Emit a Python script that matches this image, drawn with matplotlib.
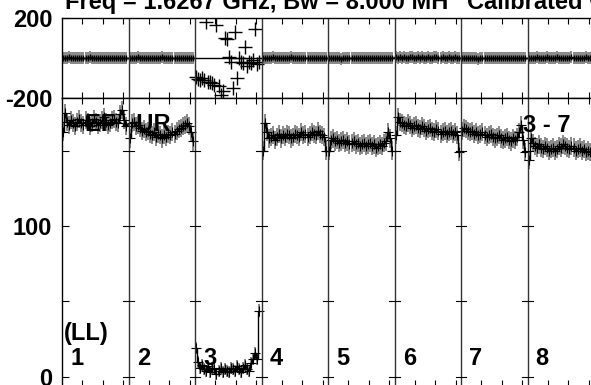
import matplotlib
matplotlib.use('Agg')
import matplotlib.pyplot as plt
import numpy as np

plt.rcParams['font.family'] = ['Liberation Sans', 'DejaVu Sans']
plt.rcParams['font.weight'] = 'bold'

# channels plotted in each baseline panel
chans = [1, 3, 5, 7, 9, 11, 13, 15, 17, 19, 21, 23, 25, 27, 29, 31,
         33, 35, 37, 39, 41, 43, 45, 47, 49, 51, 53, 55, 57, 59, 61, 63]
panel_names = ['1', '2', '3', '4', '5', '6', '7', '8']
nchan_panel = 65

amp1 = [162, 175, 169, 167, 170, 168, 166, 169, 171, 168, 167, 170, 169, 166, 168, 171,
        169, 167, 168, 170, 172, 169, 167, 168, 170, 171, 169, 168, 174, 177, 170, 166]
amp2 = [158, 168, 169, 166, 167, 165, 163, 164, 162, 163, 161, 160, 162, 159, 161, 160,
        158, 160, 159, 161, 160, 162, 161, 163, 164, 165, 166, 167, 168, 166, 162, 156]
amp3 = [19, 10, 6, 8, 5, 4, 7, 3, 6, 5, 2, 4, 6, 3, 5, 4,
        3, 6, 5, 4, 7, 5, 3, 6, 8, 5, 4, 9, 12, 16, 12, 44]
amp4 = [150, 168, 162, 158, 159, 160, 157, 159, 161, 158, 160, 159, 161, 160, 158, 159,
        161, 160, 159, 162, 160, 161, 159, 160, 162, 161, 160, 163, 161, 160, 159, 150]
amp5 = [150, 157, 158, 156, 157, 155, 156, 157, 155, 156, 154, 155, 156, 154, 155, 153,
        154, 155, 153, 154, 155, 153, 154, 152, 153, 154, 153, 155, 156, 162, 158, 150]
amp6 = [160, 172, 169, 168, 167, 166, 168, 167, 165, 166, 167, 165, 164, 166, 165, 163,
        164, 165, 163, 162, 164, 163, 161, 162, 163, 161, 162, 163, 161, 162, 160, 149]
amp7 = [163, 165, 164, 163, 162, 163, 161, 162, 160, 161, 162, 160, 159, 160, 161, 159,
        158, 159, 160, 158, 157, 158, 159, 157, 156, 158, 157, 159, 162, 167, 157, 149]
amp8 = [144, 158, 155, 153, 152, 154, 152, 151, 153, 152, 150, 151, 152, 150, 151, 153,
        152, 154, 153, 152, 151, 153, 152, 150, 151, 152, 150, 151, 149, 150, 149, 148]

ph1 = [2, -1, 0, 3, -2, 1, 0, -1, 2, 1, -2, 0, 1, 3, -1, 0,
       2, -1, 1, 0, -2, 1, 2, 0, -1, 1, 0, 2, -1, 0, 1, -2]
ph2 = [-1, 2, 1, 0, 3, -1, 0, 2, 1, -2, 0, 1, 2, -1, 0, 1,
       3, 0, -1, 2, 1, 0, -2, 1, 0, 2, 1, -1, 0, 2, -1, 1]
ph3 = [-95, -105, -110, -100, -112, 181, -118, -120, -127, -135, 165, -142, -183, -165, 99, 95,
       6, -18, -150, 130, -100, 0, -18, -27, 57, -42, -18, -25, -10, 143, -30, -20]
ph4 = [1, 0, 2, -1, 1, 3, 0, -2, 1, 0, 2, 1, -1, 0, 3, 1,
       0, -1, 2, 1, 0, -2, 1, 2, 0, 1, -1, 0, 2, 1, 0, -1]
ph5 = [0, -2, -1, 1, 0, -1, -3, 0, 1, -2, -1, 0, -2, 1, -1, 0,
       -2, -1, 0, 1, -1, -2, 0, -1, 1, 0, -2, -1, 0, -1, 1, 0]
ph6 = [3, 2, 4, 1, 3, 2, 0, 3, 4, 2, 1, 3, 2, 4, 1, 2,
       3, 1, 2, 4, 3, 1, 2, 3, 0, 2, 3, 1, 2, 3, 1, 2]
ph7 = [-1, 0, -2, -1, 1, -2, 0, -1, -3, 0, -1, -2, 0, 1, -1, -2,
       0, -1, -2, 1, 0, -1, -2, 0, -1, 1, -2, -1, 0, -2, -1, 0]
ph8 = [1, 2, 0, 1, 3, 2, 0, 1, 2, 3, 1, 0, 2, 1, 3, 2,
       1, 0, 2, 1, 2, 3, 1, 2, 0, 1, 2, 1, 3, 2, 1, 0]

amps = [amp1, amp2, amp3, amp4, amp5, amp6, amp7, amp8]
phases = [ph1, ph2, ph3, ph4, ph5, ph6, ph7, ph8]
amp_err = [6, 6, 4, 6, 6, 6, 6, 6]
ph_err = [30, 30, 0, 30, 30, 30, 30, 30]

W, H = 591, 385
fs = 17
fig = plt.figure(figsize=(W/100., H/100.), dpi=100)
ax_ph = fig.add_axes([62./W, 1-98./H, 532./W, 80./H])
ax_am = fig.add_axes([62./W, 1-386./H, 532./W, 288./H])

grey = '#808080'
xmax = nchan_panel*len(panel_names)
for i in range(len(panel_names)):
    x = [i*nchan_panel + c for c in chans]
    ax_ph.errorbar(x, phases[i], yerr=ph_err[i], fmt='none', ecolor=grey, elinewidth=1.3)
    ax_ph.plot(x, phases[i], '+', color='k', ms=10 if i == 2 else 4, mew=1.0)
    ax_am.errorbar(x, amps[i], yerr=amp_err[i], fmt='none', ecolor=grey, elinewidth=1.3)
    ax_am.plot(x, amps[i], color='k', lw=1.0, drawstyle='steps-mid')
    ax_am.plot(x, amps[i], '+', color='k', ms=7, mew=0.8)
    ax_am.text(i*nchan_panel + 8, 8, panel_names[i], fontsize=fs, fontweight='bold', ha='left', va='baseline')

ax_ph.axhline(0, color='k', lw=1.0)
bounds = [nchan_panel*k for k in range(1, len(panel_names))]
amp_ticks = [0, 50, 100, 150]
for b in bounds:
    for ax in (ax_ph, ax_am):
        ax.axvline(b, color='#333333', lw=1.0)
    for yt in amp_ticks:
        ax_am.plot([b-5, b+5], [yt, yt], color='k', lw=0.8)

xt = [i*nchan_panel + c for i in range(len(panel_names)) for c in (20, 40, 60)]
for ax in (ax_ph, ax_am):
    ax.set_xlim(0, xmax)
    ax.set_xticks(xt)
    ax.tick_params(axis='x', direction='in', top=True, bottom=True, length=4, labelbottom=False)
    ax.tick_params(axis='y', direction='in', length=5, pad=7, labelsize=fs)
    for s in ax.spines.values():
        s.set_linewidth(1.0)

ax_ph.set_ylim(-200, 200)
ax_ph.set_yticks([-200, 200])
ax_ph.set_yticklabels(['-200', '200'], fontweight='bold')
ax_am.set_ylim(-6, 184.8)
ax_am.set_yticks(amp_ticks)
ax_am.set_yticklabels(['0', '', '100', ''], fontweight='bold')

ax_am.text(2, 24.5, '(LL)', fontsize=fs, fontweight='bold', va='baseline')
ax_am.text(22.5, 163, 'EF - UR', fontsize=fs, fontweight='bold', va='baseline')
ax_am.text(450.6, 162.5, '3 - 7', fontsize=fs, fontweight='bold', va='baseline')

fig.text(65./W, 1-9./H, 'Freq = 1.6267 GHz, Bw = 8.000 MH', fontsize=fs, fontweight='bold', va='baseline')
fig.text(467./W, 1-9./H, 'Calibrated with', fontsize=fs, fontweight='bold', va='baseline')

fig.savefig('out.png', dpi=100)
